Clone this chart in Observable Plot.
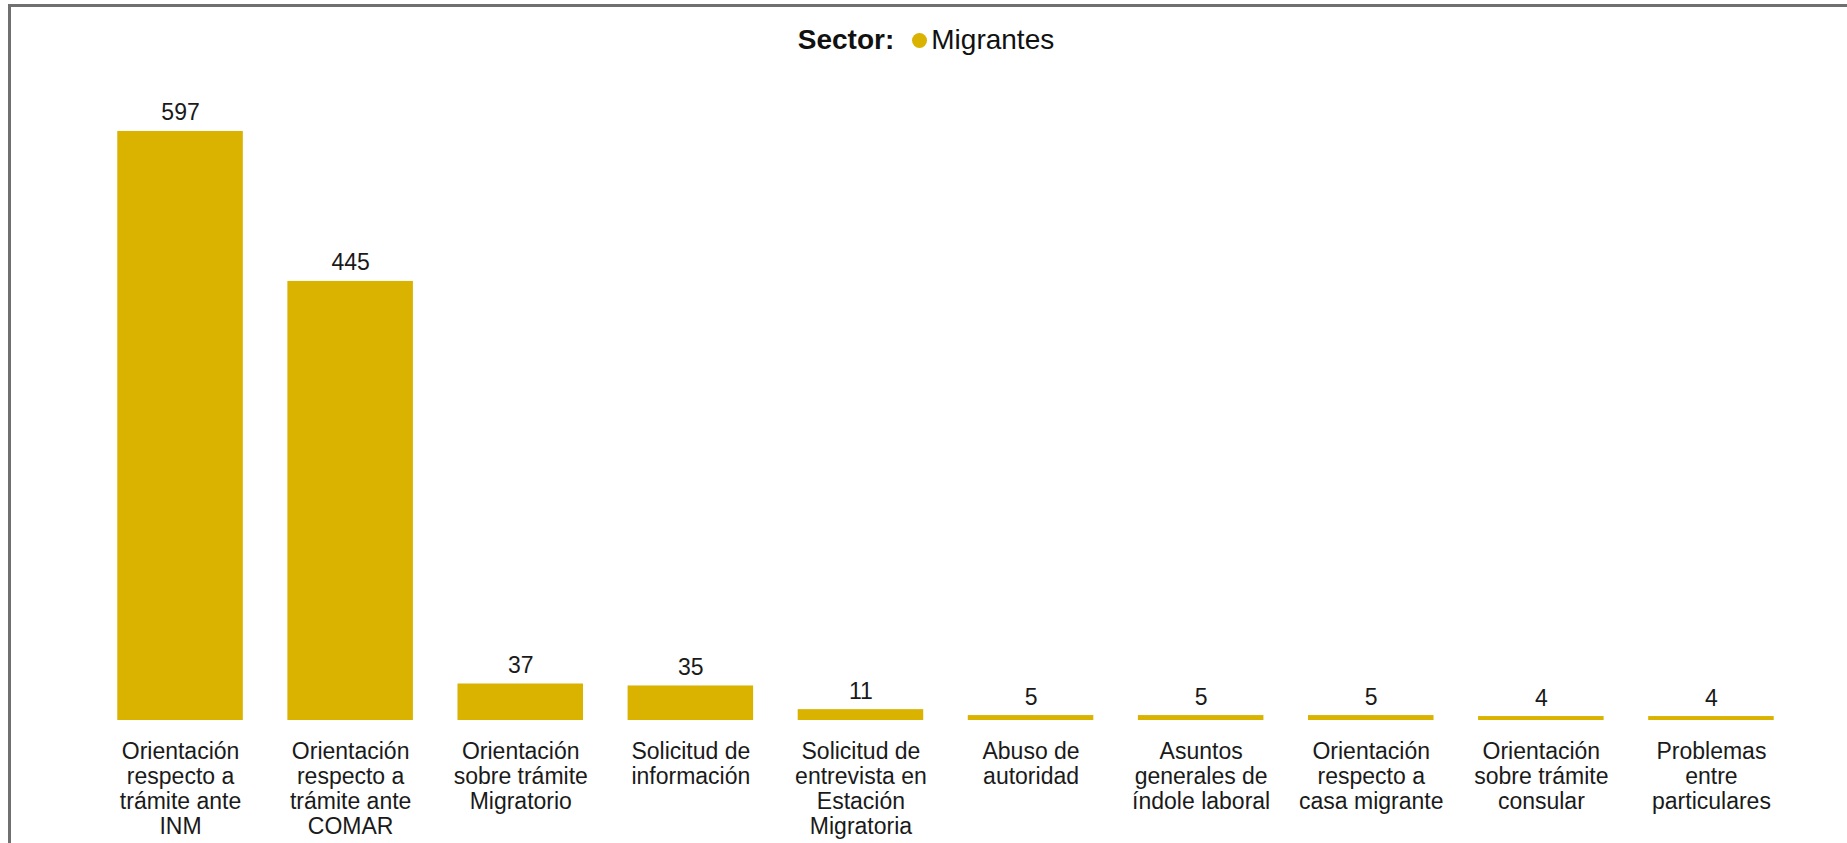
<!DOCTYPE html>
<html>
<head>
<meta charset="utf-8">
<script src="https://cdn.jsdelivr.net/npm/d3@7"></script>
<script src="https://cdn.jsdelivr.net/npm/@observablehq/plot@0.6"></script>
<style>
  html, body { margin: 0; padding: 0; background: #fff; overflow: hidden; }
  body { width: 1847px; height: 843px; position: relative; font-family: "Liberation Sans", Arial, sans-serif; }
  #frame { position: absolute; left: 8px; top: 4px; width: 3000px; height: 3000px;
           border-top: 3px solid #707070; border-left: 3px solid #707070; box-sizing: border-box; pointer-events: none; }
  #legend { height: 44px; padding-top: 26px; text-align: center; font-size: 28px; line-height: 28px; color: #111; padding-left: 5px; }
  #legend b { font-weight: bold; margin-right: 18px; }
  #legend .dot { display: inline-block; width: 15px; height: 15px; border-radius: 50%; vertical-align: 1.5px; margin-right: 4px; }
  #chart { position: relative; }
</style>
</head>
<body>
<div id="frame"></div>
<div id="legend"></div>
<div id="chart"></div>
<script>
const legendTitle = "Sector:";
const seriesName = "Migrantes";
const barColor = "#d9b300";
const categories = [
  "Orientación\nrespecto a\ntrámite ante\nINM",
  "Orientación\nrespecto a\ntrámite ante\nCOMAR",
  "Orientación\nsobre trámite\nMigratorio",
  "Solicitud de\ninformación",
  "Solicitud de\nentrevista en\nEstación\nMigratoria",
  "Abuso de\nautoridad",
  "Asuntos\ngenerales de\níndole laboral",
  "Orientación\nrespecto a\ncasa migrante",
  "Orientación\nsobre trámite\nconsular",
  "Problemas\nentre\nparticulares"
];
const values = [597, 445, 37, 35, 11, 5, 5, 5, 4, 4];

const data = categories.map((c, i) => ({cat: c, value: values[i]}));

const legend = document.getElementById("legend");
legend.innerHTML = `<b>${legendTitle}</b><span class="dot" style="background:${barColor}"></span>${seriesName}`;

const chart = Plot.plot({
  width: 1847,
  height: 773,
  marginLeft: 95,
  marginRight: 51,
  marginTop: 58,
  marginBottom: 123,
  style: {fontFamily: '"Liberation Sans", Arial, sans-serif', background: "transparent", overflow: "visible"},
  x: {domain: categories, paddingInner: 0.262, paddingOuter: 0.131, round: false, axis: null},
  y: {domain: [0, 600], axis: null},
  marks: [
    Plot.barY(data, {x: "cat", y: "value", fill: barColor}),
    Plot.text(data, {x: "cat", y: "value", text: d => String(d.value), dy: -11, lineAnchor: "bottom", fontSize: 23, fill: "#1a1a1a"}),
    Plot.text(data, {x: "cat", y: 0, text: "cat", dy: 21, lineAnchor: "top", lineHeight: 1.087, fontSize: 23, fill: "#1a1a1a"})
  ]
});
document.getElementById("chart").appendChild(chart);
</script>
</body>
</html>
